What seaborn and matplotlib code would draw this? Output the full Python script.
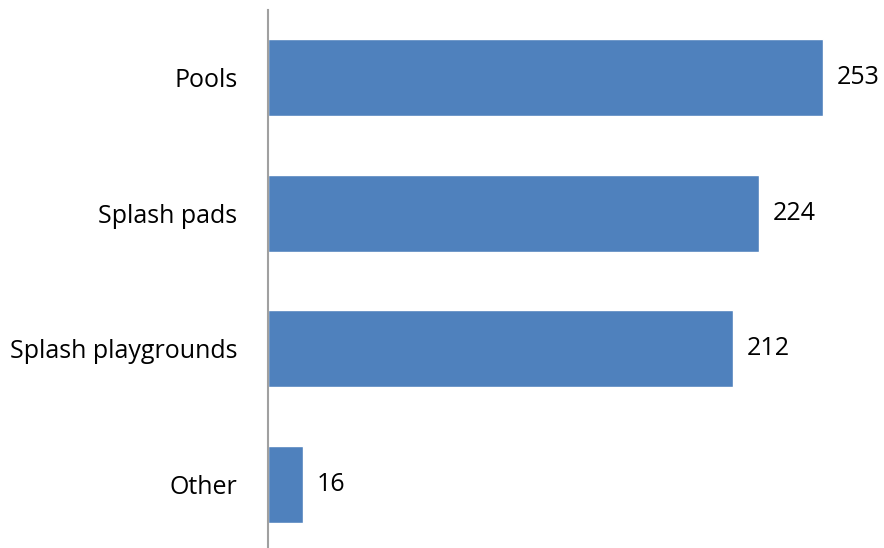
import matplotlib
matplotlib.use("Agg")
import matplotlib.pyplot as plt
import seaborn as sns
import pandas as pd

categories = ["Pools", "Splash pads", "Splash playgrounds", "Other"]
values = [253, 224, 212, 16]

df = pd.DataFrame({"cat": categories, "val": values})

sns.set_style("white")
plt.rcParams['font.family'] = ['Open Sans', 'DejaVu Sans']

fig = plt.figure(figsize=(8.84, 5.48), dpi=100)
ax = fig.add_axes([268/884, 0.0, 1 - 268/884, 1 - 10/548])

sns.barplot(data=df, y="cat", x="val", orient="h", color="#4F81BD",
            saturation=1, width=0.57, ax=ax)

ax.set_ylim(3.47, -0.5)
ax.set_xlim(0, 281)
ax.set_xlabel("")
ax.set_ylabel("")
ax.set_xticks([])
for s in ["top", "right", "bottom"]:
    ax.spines[s].set_visible(False)
ax.spines["left"].set_color("#A0A0A0")
ax.spines["left"].set_linewidth(1.5)
ax.tick_params(axis="y", length=0, pad=22, labelsize=18, labelcolor="black")

for i, v in enumerate(values):
    ax.text(v + 6.4, i, str(v), va="center", ha="left", fontsize=18, color="black")

fig.savefig("out.png", dpi=100)
